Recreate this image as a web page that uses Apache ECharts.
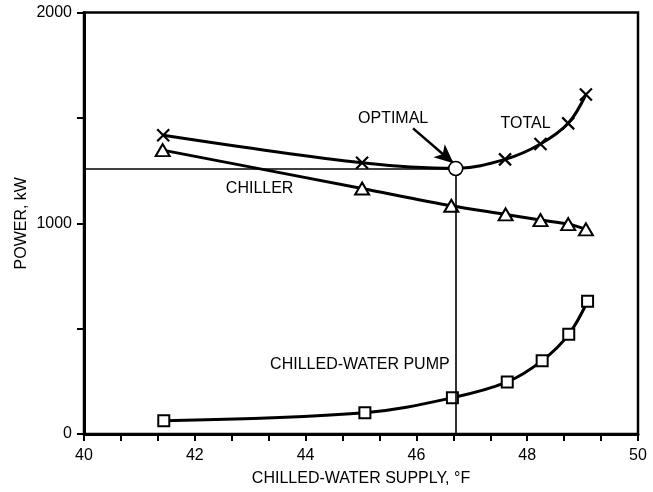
<!DOCTYPE html>
<html><head><meta charset="utf-8">
<script src="https://cdn.jsdelivr.net/npm/echarts@6/dist/echarts.min.js"></script>
<style>html,body{margin:0;padding:0;background:#fff}#c{width:653px;height:492px}</style>
</head><body><div id="c"></div>
<script>
var xTickLabels = [40, 42, 44, 46, 48, 50];
var yTickLabels = [0, 1000, 2000];
var totalX = [41.43, 45.02, 46.71, 47.60, 48.24, 48.74, 49.06];
var totalY = [1418, 1287, 1260, 1303, 1376, 1474, 1611];
var chillerX = [41.42, 45.02, 46.63, 47.61, 48.24, 48.74, 49.06];
var chillerY = [1347, 1165, 1083, 1042, 1015, 996, 971];
var pumpX = [41.44, 45.07, 46.65, 47.64, 48.27, 48.75, 49.09];
var pumpY = [63, 101, 172, 247, 348, 473, 630];
var optimal = [46.71, 1260];
var arrowFrom = [45.94, 1450];
var arrowTo = [46.67, 1285];
var labels = [
  ['CHILLER', 43.17, 1166],
  ['OPTIMAL', 45.58, 1498],
  ['TOTAL', 47.97, 1474],
  ['CHILLED-WATER PUMP', 44.98, 331]
];

function zip(a, b) { return a.map(function (v, i) { return [v, b[i]]; }); }
var FONT = 'Liberation Sans';
var chart = echarts.init(document.getElementById('c'), null, {renderer: 'canvas'});
var crossPath = 'path://M0,0L10,10M10,0L0,10';

var totalData = zip(totalX, totalY).map(function (p) {
  if (p[0] === optimal[0] && p[1] === optimal[1]) return {value: p, symbol: 'none'};
  return p;
});

chart.setOption({
  animation: false,
  backgroundColor: '#fff',
  textStyle: {fontFamily: FONT},
  grid: {left: 84, right: 15, top: 12.5, bottom: 58, show: true, borderColor: '#000', borderWidth: 2.5, containLabel: false},
  xAxis: [{
    type: 'value', min: 40, max: 50, interval: 2,
    name: 'CHILLED-WATER SUPPLY, °F', nameLocation: 'middle', nameGap: 37, nameMoveOverlap: false,
    nameTextStyle: {color: '#000', fontSize: 16, fontFamily: FONT},
    axisLine: {lineStyle: {color: '#000', width: 3}},
    axisTick: {show: false},
    splitLine: {show: false},
    axisLabel: {color: '#000', fontSize: 16, margin: 14, fontFamily: FONT,
      formatter: function (v) { return xTickLabels.indexOf(Math.round(v)) >= 0 ? String(Math.round(v)) : ''; }}
  }, {
    type: 'value', min: 40, max: 50, interval: 2 / 3, position: 'bottom',
    axisLine: {show: false},
    axisTick: {show: true, length: 7, lineStyle: {color: '#000', width: 2}},
    axisLabel: {show: false}, splitLine: {show: false}
  }],
  yAxis: {
    type: 'value', min: 0, max: 2000, interval: 500,
    name: 'POWER, kW', nameLocation: 'middle', nameGap: 54, nameMoveOverlap: false,
    nameTextStyle: {color: '#000', fontSize: 16, fontFamily: FONT},
    axisLine: {show: true, lineStyle: {color: '#000', width: 3}},
    axisTick: {show: true, length: 7, lineStyle: {color: '#000', width: 2}},
    splitLine: {show: false},
    axisLabel: {color: '#000', fontSize: 16, margin: 12, fontFamily: FONT,
      formatter: function (v) { return yTickLabels.indexOf(v) >= 0 ? String(v) : ''; }}
  },
  series: [
    {
      type: 'line', name: 'ref', data: [], z: 2,
      markLine: {
        silent: true, symbol: ['none', 'none'], label: {show: false},
        lineStyle: {color: '#000', width: 1.6, type: 'solid'},
        data: [
          [{coord: [40, optimal[1]]}, {coord: [optimal[0], optimal[1]]}],
          [{coord: [optimal[0], optimal[1]]}, {coord: [optimal[0], 0]}]
        ]
      }
    },
    {
      type: 'line', name: 'TOTAL', data: totalData, smooth: 0.35,
      symbol: crossPath, symbolSize: 12, showAllSymbol: true,
      lineStyle: {color: '#000', width: 3},
      itemStyle: {color: 'rgba(0,0,0,0)', borderColor: '#000', borderWidth: 2.2}, z: 3
    },
    {
      type: 'line', name: 'CHILLER', data: zip(chillerX, chillerY), smooth: 0.3,
      symbol: 'triangle', symbolSize: [14, 12], showAllSymbol: true,
      lineStyle: {color: '#000', width: 3},
      itemStyle: {color: '#fff', borderColor: '#000', borderWidth: 2}, z: 3
    },
    {
      type: 'line', name: 'PUMP', data: zip(pumpX, pumpY), smooth: 0.35,
      symbol: 'rect', symbolSize: 11, showAllSymbol: true,
      lineStyle: {color: '#000', width: 3},
      itemStyle: {color: '#fff', borderColor: '#000', borderWidth: 2}, z: 3
    },
    {
      type: 'scatter', name: 'OPTIMAL', data: [optimal], symbol: 'circle', symbolSize: 14,
      itemStyle: {color: '#fff', borderColor: '#000', borderWidth: 1.6, opacity: 1}, z: 5,
      markLine: {
        silent: true, symbol: ['none', 'arrow'], symbolSize: [13, 19], label: {show: false},
        lineStyle: {color: '#000', width: 2.5, type: 'solid'},
        data: [[{coord: arrowFrom}, {coord: arrowTo}]]
      }
    },
    {
      type: 'scatter', name: 'labels', symbolSize: 0, z: 6,
      itemStyle: {opacity: 1},
      data: labels.map(function (l) { return {value: [l[1], l[2]], name: l[0]}; }),
      label: {show: true, position: 'inside', formatter: '{b}', color: '#000', fontSize: 16, fontFamily: FONT}
    }
  ]
});
</script></body></html>
